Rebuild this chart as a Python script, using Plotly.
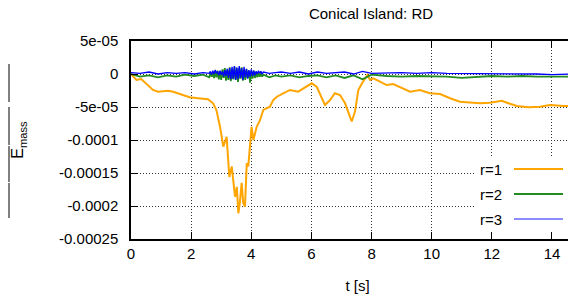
import plotly.graph_objects as go

# ---------------- data (values in units of 1e-5) ----------------
r1_t = [0.0, 0.18, 0.34, 0.50, 0.73, 0.90, 1.23, 1.40, 1.66, 1.95, 2.23, 2.56, 2.73, 2.84,
        2.96, 3.07, 3.18, 3.27, 3.35, 3.46, 3.52, 3.57, 3.62, 3.68, 3.73, 3.79, 3.85, 3.90,
        4.01, 4.07, 4.18, 4.29, 4.40, 4.51, 4.62, 4.73, 4.85, 5.06, 5.29, 5.56, 5.73, 6.01,
        6.18, 6.34, 6.45, 6.62, 6.78, 6.95, 7.12, 7.28, 7.34, 7.45, 7.56, 7.67, 7.78, 7.86,
        7.95, 8.06, 8.28, 8.50, 8.72, 9.06, 9.28, 9.61, 9.94, 10.28, 10.61, 10.94, 11.27,
        11.61, 11.94, 12.33, 12.55, 12.83, 13.21, 13.60, 13.93, 14.38, 14.77, 15.2, 15.6, 16.0]
r1_v = [0.0, -0.91, -0.76, -1.41, -2.42, -2.68, -2.53, -2.68, -3.08, -3.53, -3.68, -3.83, -4.44, -5.45,
        -7.98, -11.0, -9.5, -15.6, -14.0, -18.6, -17.1, -21.1, -19.5, -16.5, -19.5, -20.1, -13.5, -14.0,
        -8.0, -10.0, -8.0, -7.0, -5.45, -5.15, -4.95, -3.94, -3.44, -2.92, -2.42, -2.68, -2.17, -1.41,
        -1.97, -3.44, -4.7, -3.94, -2.92, -3.18, -4.44, -6.47, -7.2, -5.7, -2.42, -1.5, -0.65, -0.15,
        -0.91, -0.65, -1.17, -1.67, -1.52, -2.17, -2.68, -2.42, -2.92, -3.03, -3.68, -4.2, -4.35,
        -4.44, -4.35, -4.05, -4.44, -4.85, -5.05, -4.95, -4.7, -4.85, -4.8, -4.75, -4.8, -4.75]

r23_t = [0.0, 0.3, 0.6, 0.9, 1.2, 1.5, 1.8, 2.1, 2.4,
         2.60, 2.64, 2.68, 2.72, 2.76, 2.80, 2.84, 2.88, 2.92, 2.96, 3.00, 3.04, 3.08, 3.12,
         3.16, 3.20, 3.24, 3.28, 3.32, 3.36, 3.40, 3.44, 3.48, 3.52, 3.56, 3.60, 3.64, 3.68,
         3.72, 3.76, 3.80, 3.84, 3.88, 3.92, 3.96, 4.00, 4.04, 4.08, 4.12, 4.16, 4.20, 4.24,
         4.28, 4.32, 4.36, 4.40,
         4.6, 4.8, 5.0, 5.3, 5.6, 5.9, 6.2, 6.5, 6.8, 7.1, 7.4, 7.7, 8.0, 8.5, 9.0, 9.5, 10.0,
         10.5, 11.0, 11.5, 12.0, 12.5, 13.0, 13.5, 14.0, 14.5, 15.0, 15.5, 16.0]
r2_v = [0.0, -0.4, -0.2, -0.5, -0.2, -0.4, -0.1, -0.3, -0.1,
        -0.5, 0.1, -0.4, 0.2, -0.6, 0.3, -0.5, 0.5, -0.8, 0.4, -0.9, 0.7, -0.6, 0.9,
        -1.0, 0.6, -0.9, 1.0, -1.1, 0.7, -0.8, 1.1, -0.9, 0.8, -1.2, 0.9, -0.7, 1.0,
        -1.0, 0.6, -0.9, 0.7, -0.6, 0.5, -1.3, 0.4, -0.7, 0.5, -0.6, 0.3, -0.5, 0.2,
        -0.4, 0.1, -0.4, -0.1,
        -0.5, -0.2, -0.4, -0.2, -0.5, -0.3, -0.2, -0.5, -0.2, -0.6, -0.2, -0.8, -0.1, -0.3, -0.4, -0.3, -0.3,
        -0.4, -0.6, -0.4, -0.3, -0.4, -0.3, -0.4, -0.4, -0.3, -0.4, -0.3, -0.4]
r3_v = [0.2, 0.1, 0.3, 0.0, 0.2, 0.1, 0.2, 0.0, 0.2,
        0.1, 0.4, -0.1, 0.5, 0.0, 0.6, 0.1, 0.4, -0.2, 0.5, -0.1, 0.4, -0.4, 0.6,
        -0.3, 0.8, -0.6, 0.9, -0.8, 1.1, -0.7, 1.2, -0.9, 1.0, -0.8, 1.2, -0.6, 0.9,
        -0.9, 1.1, -0.5, 0.8, -0.7, 0.6, -0.4, 0.7, -0.3, 0.5, -0.2, 0.4, 0.0, 0.5,
        0.1, 0.4, 0.0, 0.3,
        0.1, 0.2, 0.3, 0.1, 0.3, 0.0, 0.3, 0.1, 0.2, 0.3, 0.0, 0.4, 0.1, 0.2, 0.2, 0.1, 0.2,
        0.1, 0.1, 0.1, 0.1, 0.0, 0.1, 0.0, -0.1, 0.0, 0.0, 0.1, 0.0]
UNIT = 1e-5

series_names = ["r=1", "r=2", "r=3"]
series_colors = ["#FFA500", "#228B22", "#0000FF"]

x_ticks = [0, 2, 4, 6, 8, 10, 12, 14]
y_tickvals = [5e-05, 0, -5e-05, -0.0001, -0.00015, -0.0002, -0.00025]
y_ticktext = ["5e-05", "0", "-5e-05", "-0.0001", "-0.00015", "-0.0002", "-0.00025"]

# ---------------- layout geometry ----------------
# the page adds an 8px body margin, so figure coords = page coords - 8
OFF = 8
W, H = 576, 296
L, R, T, B = 131 - OFF, 576, 41 - OFF, 239 - OFF   # figure pixel coords of plot area


def px_x(p):  # page pixel -> paper
    return (p - OFF - L) / (R - L)


def px_y(p):
    return (B - (p - OFF)) / (B - T)


FONT = "Liberation Sans, Arial, Helvetica, sans-serif"
FS = 15

fig = go.Figure()
fig.add_trace(go.Scatter(x=r1_t, y=[v * UNIT for v in r1_v], mode="lines", name=series_names[0],
                         line=dict(color=series_colors[0], width=2)))
fig.add_trace(go.Scatter(x=r23_t, y=[v * UNIT for v in r2_v], mode="lines", name=series_names[1],
                         line=dict(color=series_colors[1], width=1.8)))
fig.add_trace(go.Scatter(x=r23_t, y=[v * UNIT for v in r3_v], mode="lines", name=series_names[2],
                         line=dict(color=series_colors[2], width=1.3)))

shapes = []
shapes.append(dict(type="rect", xref="paper", yref="paper", x0=px_x(474), x1=px_x(573),
                   y0=px_y(232), y1=px_y(157), fillcolor="white", line=dict(width=0), layer="above"))
annotations = []
for i, (nm, col) in enumerate(zip(series_names, series_colors)):
    yy = 169 + 25 * i
    shapes.append(dict(type="line", xref="paper", yref="paper", x0=px_x(514), x1=px_x(563),
                       y0=px_y(yy), y1=px_y(yy), line=dict(color=col, width=2 if i < 2 else 1.5),
                       layer="above", opacity=1 if i < 2 else 0.6))
    annotations.append(dict(text=nm, xref="paper", yref="paper", x=px_x(504), y=px_y(yy),
                            xanchor="right", yanchor="middle", showarrow=False,
                            font=dict(family=FONT, size=FS, color="black")))

for y0, y1 in [(64, 102), (107, 145), (146, 182), (183, 218)]:
    shapes.append(dict(type="line", xref="paper", yref="paper", x0=px_x(OFF + 1), x1=px_x(OFF + 1),
                       y0=px_y(y0), y1=px_y(y1), line=dict(color="#808080", width=2)))

fig.update_layout(
    width=W, height=H,
    margin=dict(l=L, r=W - R, t=T, b=H - B),
    paper_bgcolor="white", plot_bgcolor="white",
    showlegend=False,
    font=dict(family=FONT, size=FS, color="black"),
    title=dict(text="Conical Island: RD", x=px_x(371), xref="paper", xanchor="center",
               y=1 - 0.5 / H, yref="container", yanchor="top",
               font=dict(family=FONT, size=FS, color="black")),
    shapes=shapes,
    annotations=annotations,
)
fig.update_xaxes(range=[0, (R - L) / 30.07], tickvals=x_ticks, ticks="inside", ticklen=7,
                 tickcolor="black", showline=True, linecolor="black", linewidth=1.5, mirror="ticks",
                 showgrid=True, gridcolor="#333333", griddash="1px,2px", gridwidth=1,
                 zeroline=False, tickfont=dict(size=FS),
                 title=dict(text="t [s]", standoff=20, font=dict(size=FS)))
fig.update_yaxes(range=[-0.00025, 5e-05], tickvals=y_tickvals, ticktext=y_ticktext,
                 ticks="inside", ticklen=7, tickcolor="black", showline=True, linecolor="black",
                 linewidth=1.5, mirror=False, ticklabelstandoff=8,
                 showgrid=True, gridcolor="#333333", griddash="1px,2px", gridwidth=1,
                 zeroline=False, tickfont=dict(size=FS),
                 title=dict(text="E<sub>mass</sub>", standoff=31, font=dict(size=16)))

fig.write_html("out.html")
